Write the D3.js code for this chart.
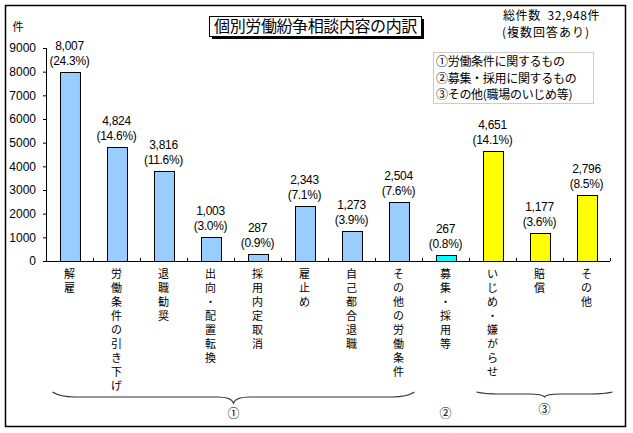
<!DOCTYPE html>
<html>
<head>
<meta charset="utf-8">
<script src="https://cdn.jsdelivr.net/npm/d3@7"></script>
<style>
  body { margin: 0; background: #fff; }
  text { font-family: "Liberation Sans", "Noto Sans CJK JP", sans-serif; fill: #000; }
  .jp { font-family: "Noto Sans CJK JP", sans-serif; }
</style>
</head>
<body>
<div id="chart"></div>
<script>
// Data
var categories = ["解雇", "労働条件の引き下げ", "退職勧奨", "出向・配置転換", "採用内定取消", "雇止め",
                  "自己都合退職", "その他の労働条件", "募集・採用等", "いじめ・嫌がらせ", "賠償", "その他"];
var counts = [8007, 4824, 3816, 1003, 287, 2343, 1273, 2504, 267, 4651, 1177, 2796];
var shares = [24.3, 14.6, 11.6, 3.0, 0.9, 7.1, 3.9, 7.6, 0.8, 14.1, 3.6, 8.5];
var groups = [1, 1, 1, 1, 1, 1, 1, 1, 2, 3, 3, 3];
var yTicks = [0, 1000, 2000, 3000, 4000, 5000, 6000, 7000, 8000, 9000];
var legendLines = ["①労働条件に関するもの", "②募集・採用に関するもの", "③その他(職場のいじめ等)"];
var groupLabels = ["①", "②", "③"];

var groupColor = {1: "#99ccff", 2: "#00ffff", 3: "#ffff00"};

var width = 633, height = 433;
var margin = {left: 46, right: 23, top: 48, bottom: 172};

var svg = d3.select("#chart")
    .append("svg")
        .attr("width", width)
        .attr("height", height);

// outer frame
svg.append("rect")
    .attr("x", 5.5).attr("y", 5.5)
    .attr("width", 620).attr("height", 421)
    .attr("fill", "none").attr("stroke", "#000").attr("stroke-width", 1.5);

var chartGroup = svg.append("g")
    .attr("transform", `translate(${margin.left}, ${margin.top})`);

var plotW = width - margin.left - margin.right,
    plotH = height - margin.top - margin.bottom;

// scales
var xBand = d3.scaleBand()
    .domain(d3.range(categories.length))
    .range([0, plotW])
    .paddingInner(0.575)
    .paddingOuter(0.2875);

var yLinear = d3.scaleLinear()
    .domain([0, 9000])
    .range([plotH, 0]);

// y axis
var leftAxis = d3.axisLeft(yLinear).tickValues(yTicks).tickSize(3).tickPadding(7).tickFormat(d3.format("d"));
var yAxis = chartGroup.append("g").call(leftAxis);
yAxis.select(".domain").attr("stroke", "#000");
yAxis.selectAll("text").attr("font-size", "12px");

// x axis line + boundary ticks
chartGroup.append("line")
    .attr("x1", 0).attr("x2", plotW)
    .attr("y1", plotH + 0.5).attr("y2", plotH + 0.5)
    .attr("stroke", "#000");

var step = xBand.step();
chartGroup.selectAll(".xtick")
    .data(d3.range(1, categories.length + 1))
    .enter()
    .append("line")
    .attr("x1", d => Math.round(d * step) + 0.5)
    .attr("x2", d => Math.round(d * step) + 0.5)
    .attr("y1", plotH - 3).attr("y2", plotH)
    .attr("stroke", "#000");

// bars
chartGroup.selectAll(".bar")
    .data(counts)
    .enter()
    .append("rect")
    .attr("x", (d, i) => Math.round(xBand(i)) + 0.5)
    .attr("y", d => Math.round(yLinear(d)) + 0.5)
    .attr("width", xBand.bandwidth())
    .attr("height", d => plotH - Math.round(yLinear(d)))
    .attr("fill", (d, i) => groupColor[groups[i]])
    .attr("stroke", "#000")
    .attr("stroke-width", 1);

// value labels
var labelG = chartGroup.selectAll(".vlabel")
    .data(counts)
    .enter()
    .append("g")
    .attr("transform", (d, i) => `translate(${xBand(i) + xBand.bandwidth() / 2}, ${yLinear(d)})`);

labelG.append("text")
    .attr("y", -22)
    .attr("text-anchor", "middle")
    .attr("font-size", "12px")
    .attr("letter-spacing", "-0.3px")
    .text(d => d3.format(",")(d));

labelG.append("text")
    .attr("y", -7)
    .attr("text-anchor", "middle")
    .attr("font-size", "12px")
    .attr("letter-spacing", "-0.3px")
    .text((d, i) => `(${shares[i].toFixed(1)}%)`);

// vertical category labels, one character per line
categories.forEach(function(c, i) {
    var cx = xBand(i) + xBand.bandwidth() / 2;
    chartGroup.append("g")
        .selectAll("text")
        .data(Array.from(c))
        .enter()
        .append("text")
        .attr("x", cx)
        .attr("y", (ch, k) => plotH + 17 + k * 14)
        .attr("text-anchor", "middle")
        .attr("font-size", "11px")
        .text(ch => ch);
});

// braces under groups
function brace(x1, x2, yTop, yFlat, yTip) {
    var xm = (x1 + x2) / 2;
    return `M${x1},${yTop} Q${x1 + 8},${yFlat} ${x1 + 22},${yFlat} L${xm - 16},${yFlat} Q${xm - 2},${yFlat} ${xm},${yTip}` +
           ` Q${xm + 2},${yFlat} ${xm + 16},${yFlat} L${x2 - 22},${yFlat} Q${x2 - 8},${yFlat} ${x2},${yTop}`;
}

var g1 = [xBand(0) - 7, xBand(7) + xBand.bandwidth() + 6];
var g3 = [xBand(9) - 6, xBand(11) + xBand.bandwidth() + 16];

chartGroup.append("path")
    .attr("d", brace(g1[0], g1[1], plotH + 131, plotH + 136, plotH + 142))
    .attr("fill", "none").attr("stroke", "#333").attr("stroke-width", 1.2);
chartGroup.append("path")
    .attr("d", brace(g3[0], g3[1], plotH + 131, plotH + 133, plotH + 136))
    .attr("fill", "none").attr("stroke", "#333").attr("stroke-width", 1.2);

var glabelX = [(g1[0] + g1[1]) / 2, xBand(8) + xBand.bandwidth() / 2, (g3[0] + g3[1]) / 2];
var glabelY = [plotH + 157, plotH + 157, plotH + 153];
groupLabels.forEach(function(t, i) {
    chartGroup.append("text")
        .attr("class", "jp")
        .attr("x", glabelX[i]).attr("y", glabelY[i])
        .attr("text-anchor", "middle")
        .attr("font-size", "12px")
        .text(t);
});

// unit label
svg.append("text")
    .attr("class", "jp")
    .attr("x", 18).attr("y", 31)
    .attr("text-anchor", "middle")
    .attr("font-size", "11px")
    .text("件");

// title box with shadow
svg.append("rect")
    .attr("x", 212).attr("y", 19).attr("width", 212).attr("height", 20)
    .attr("fill", "#000");
svg.append("rect")
    .attr("x", 209.5).attr("y", 16.5).attr("width", 212).attr("height", 20)
    .attr("fill", "#fff").attr("stroke", "#000");
svg.append("text")
    .attr("class", "jp")
    .attr("x", 315.5).attr("y", 32)
    .attr("text-anchor", "middle")
    .attr("font-size", "16px")
    .attr("letter-spacing", "-0.4px")
    .text("個別労働紛争相談内容の内訳");

// total note
svg.append("text")
    .attr("class", "jp")
    .attr("x", 503).attr("y", 20)
    .attr("font-size", "12px")
    .attr("letter-spacing", "0.6px")
    .attr("xml:space", "preserve")
    .text("総件数  32,948件");
svg.append("text")
    .attr("class", "jp")
    .attr("x", 502).attr("y", 37)
    .attr("font-size", "12px")
    .attr("letter-spacing", "1px")
    .text("(複数回答あり)");

// legend box
svg.append("rect")
    .attr("x", 433.5).attr("y", 52.5).attr("width", 160).attr("height", 51)
    .attr("fill", "#fff").attr("stroke", "#999").attr("stroke-dasharray", "1,1");
svg.append("g")
    .selectAll("text")
    .data(legendLines)
    .enter()
    .append("text")
    .attr("class", "jp")
    .attr("x", 436)
    .attr("y", (d, i) => 66 + i * 16.5)
    .attr("font-size", "12px")
    .attr("letter-spacing", "-0.3px")
    .text(d => d);
</script>
</body>
</html>
